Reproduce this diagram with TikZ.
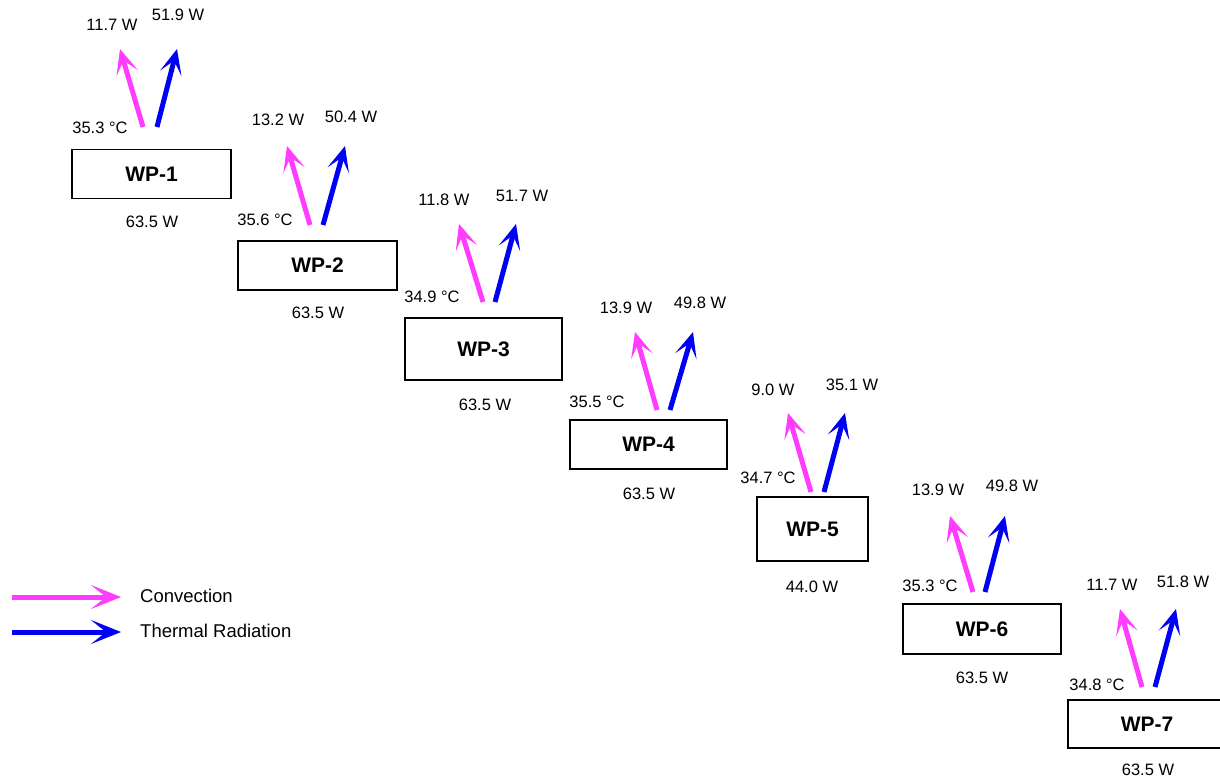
\documentclass[tikz,border=0pt]{standalone}
\usepackage{fontspec}
\setmainfont{Liberation Sans}
\usetikzlibrary{arrows.meta}
\definecolor{conv}{RGB}{255,60,255}
\definecolor{rad}{RGB}{0,0,245}
\begin{document}
\begin{tikzpicture}[x=1pt,y=-1pt,
  wpbox/.style={draw=black,line width=1.4pt,minimum width=159pt,minimum height=49pt,inner sep=0pt,font=\fontsize{21}{21}\selectfont\bfseries},
  lbl/.style={font=\fontsize{16.5}{17}\selectfont,inner sep=0pt},
  leg/.style={font=\fontsize{18.5}{19}\selectfont,inner sep=0pt,anchor=west},
  flow/.style={line width=5pt,-{Stealth[length=25pt,width=22pt,inset=13pt]}},
  convarrow/.style={flow,draw=conv},
  radarrow/.style={flow,draw=rad}]
\useasboundingbox (0,0) rectangle (1220,780);
% boxes
\node[wpbox] (wp1) at (151.5,174) {WP-1};
\node[wpbox] (wp2) at (317.5,265.5) {WP-2};
\node[wpbox,minimum width=157pt,minimum height=62pt] (wp3) at (483.5,349) {WP-3};
\node[wpbox,minimum width=157pt] (wp4) at (648.5,444.5) {WP-4};
\node[wpbox,minimum width=111pt,minimum height=64pt] (wp5) at (812.5,529) {WP-5};
\node[wpbox,minimum width=158pt,minimum height=50pt] (wp6) at (982,629) {WP-6};
\node[wpbox,minimum width=158pt,minimum height=48pt] (wp7) at (1147,724) {WP-7};
% arrow coordinates
\coordinate (c1a) at (143,127); \coordinate (c1b) at (120,49);
\coordinate (r1a) at (157,127); \coordinate (r1b) at (177,49);
\coordinate (c2a) at (310,225); \coordinate (c2b) at (287,146);
\coordinate (r2a) at (323,225); \coordinate (r2b) at (345,146);
\coordinate (c3a) at (483,302); \coordinate (c3b) at (459,224);
\coordinate (r3a) at (495,302); \coordinate (r3b) at (516,224);
\coordinate (c4a) at (657,410); \coordinate (c4b) at (635,332);
\coordinate (r4a) at (670,410); \coordinate (r4b) at (693,332);
\coordinate (c5a) at (811,492); \coordinate (c5b) at (788,413);
\coordinate (r5a) at (824,492); \coordinate (r5b) at (845,413);
\coordinate (c6a) at (973,592); \coordinate (c6b) at (950,516);
\coordinate (r6a) at (985,592); \coordinate (r6b) at (1005,516);
\coordinate (c7a) at (1142,687); \coordinate (c7b) at (1120,609);
\coordinate (r7a) at (1155,687); \coordinate (r7b) at (1176,609);
\foreach \i in {1,...,7}{
  \draw[convarrow] (c\i a) -- (c\i b);
  \draw[radarrow] (r\i a) -- (r\i b);
}
% labels WP-1
\node[lbl] (l1c) at (112,25) {11.7 W};
\node[lbl] (l1r) at (178,15) {51.9 W};
\node[lbl] (l1t) at (100,128) {35.3 °C};
\node[lbl] (l1p) at (152,222) {63.5 W};
% WP-2
\node[lbl] (l2c) at (278,120) {13.2 W};
\node[lbl] (l2r) at (351,117) {50.4 W};
\node[lbl] (l2t) at (265,220) {35.6 °C};
\node[lbl] (l2p) at (318,313) {63.5 W};
% WP-3
\node[lbl] (l3c) at (444,200) {11.8 W};
\node[lbl] (l3r) at (522,196) {51.7 W};
\node[lbl] (l3t) at (432,297) {34.9 °C};
\node[lbl] (l3p) at (485,405) {63.5 W};
% WP-4
\node[lbl] (l4c) at (626,308) {13.9 W};
\node[lbl] (l4r) at (700,303) {49.8 W};
\node[lbl] (l4t) at (597,402) {35.5 °C};
\node[lbl] (l4p) at (649,494) {63.5 W};
% WP-5
\node[lbl] (l5c) at (773,390) {9.0 W};
\node[lbl] (l5r) at (852,385) {35.1 W};
\node[lbl] (l5t) at (768,478) {34.7 °C};
\node[lbl] (l5p) at (812,587) {44.0 W};
% WP-6
\node[lbl] (l6c) at (938,490) {13.9 W};
\node[lbl] (l6r) at (1012,486) {49.8 W};
\node[lbl] (l6t) at (930,586) {35.3 °C};
\node[lbl] (l6p) at (982,678) {63.5 W};
% WP-7
\node[lbl] (l7c) at (1112,585) {11.7 W};
\node[lbl] (l7r) at (1183,582) {51.8 W};
\node[lbl] (l7t) at (1097,685) {34.8 °C};
\node[lbl] (l7p) at (1148,770) {63.5 W};
% legend
\coordinate (lc1) at (12,597); \coordinate (lc2) at (121,597);
\coordinate (lr1) at (12,632); \coordinate (lr2) at (121,632);
\draw[convarrow,-{Stealth[length=30pt,width=24pt,inset=15pt]}] (lc1) -- (lc2);
\draw[radarrow,-{Stealth[length=30pt,width=24pt,inset=15pt]}] (lr1) -- (lr2);
\node[leg] (legc) at (140,596) {Convection};
\node[leg] (legr) at (140,631) {Thermal Radiation};
\end{tikzpicture}
\end{document}
